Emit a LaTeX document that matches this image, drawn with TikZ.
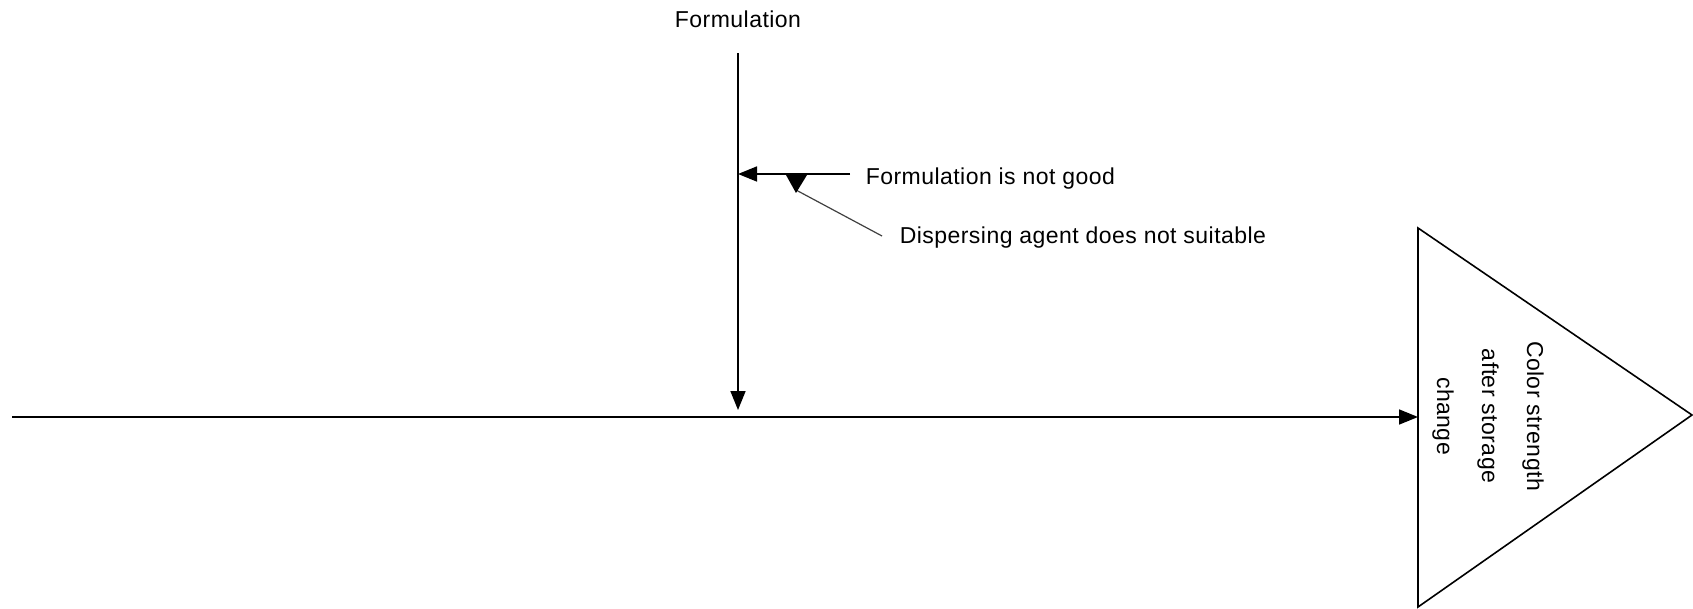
\documentclass[tikz,border=0pt]{standalone}
\usepackage{fontspec}
\setmainfont[LetterSpace=2]{Liberation Sans}
\usetikzlibrary{arrows.meta,calc}

\begin{document}
\begin{tikzpicture}[x=1pt, y=-1pt, line width=1.6pt,
    tip/.style={-{Triangle[length=19pt,width=15pt]}},
    txt/.style={font=\fontsize{23}{45}\selectfont, inner sep=0pt}]
    \useasboundingbox (0,0) rectangle (1693,609);

    % Draw the effect triangle
    \coordinate (T1) at (1418,228);
    \coordinate (T2) at (1692,415);
    \coordinate (T3) at (1418,607);
    \draw (T1) -- (T2) -- (T3) -- cycle;
    \node[txt, rotate=-90, align=center] (effect) at (1488,416) {Color strength\\after storage\\change};

%spine
    \coordinate (S) at (12,417);
    \draw[tip] (S) -- (S -| T1) coordinate (E);

%main cause
    \node[txt, anchor=base] (cause) at (738,28) {Formulation};
    \path (cause.south) ++(0,24) coordinate (C);
    \draw[tip] (C) -- ++(0,357) coordinate (J);

%sub causes
    \node[txt, anchor=base west] (sub1) at (865,185) {Formulation is not good};
    \node[txt, anchor=base west] (sub2) at (899,244) {Dispersing agent does not suitable};
    \coordinate (B) at (850,174);
    \draw[tip] (B) -- (B -| C) coordinate (K);
    \path (K) ++(58,0) coordinate (M);
    \draw[black!75, line width=1.2pt] (882,236) coordinate (D) -- ($(M)+(0,16)$);
    \fill (M) ++(-10,1) -- ++(21,0) -- ++(-11,18) -- cycle;

\end{tikzpicture}
\end{document}
